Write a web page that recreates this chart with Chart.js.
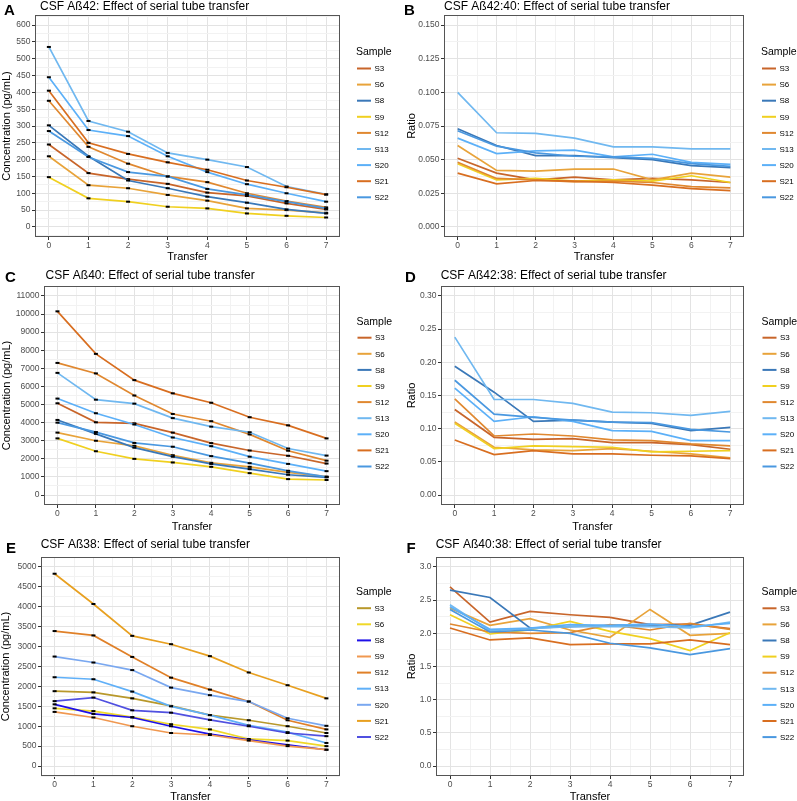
<!DOCTYPE html>
<html>
<head>
<meta charset="utf-8">
<script src="https://cdn.jsdelivr.net/npm/chart.js@4"></script>
<style>
  body { margin: 0; background: #fff; width: 797px; height: 801px; overflow: hidden; }
  canvas { position: absolute; }
</style>
</head>
<body>
<canvas id="pA"></canvas>
<canvas id="pB"></canvas>
<canvas id="pC"></canvas>
<canvas id="pD"></canvas>
<canvas id="pE"></canvas>
<canvas id="pF"></canvas>
<script>
// samples (legend order) and transfer steps
const samples = ['S3', 'S6', 'S8', 'S9', 'S12', 'S13', 'S20', 'S21', 'S22'];
const transfer = [0, 1, 2, 3, 4, 5, 6, 7];
const xTicks = [0, 1, 2, 3, 4, 5, 6, 7];

// y tick labels per panel
const yTicksAb42 = [0, 50, 100, 150, 200, 250, 300, 350, 400, 450, 500, 550, 600];
const yTicksRatio4240 = [0, 0.025, 0.05, 0.075, 0.1, 0.125, 0.15];
const yTicksAb40 = [0, 1000, 2000, 3000, 4000, 5000, 6000, 7000, 8000, 9000, 10000, 11000];
const yTicksRatio4238 = [0, 0.05, 0.1, 0.15, 0.2, 0.25, 0.3];
const yTicksAb38 = [0, 500, 1000, 1500, 2000, 2500, 3000, 3500, 4000, 4500, 5000];
const yTicksRatio4038 = [0, 0.5, 1, 1.5, 2, 2.5, 3];

// values, one row per sample (same order as samples)
const ab42 = [
  [245, 160, 142, 128, 102, 92, 70, 52],
  [210, 124, 115, 95, 78, 55, 50, 42],
  [302, 210, 138, 115, 90, 72, 52, 40],
  [148, 85, 75, 60, 55, 40, 33, 28],
  [375, 238, 188, 150, 133, 100, 77, 58],
  [535, 315, 283, 220, 200, 178, 120, 97],
  [445, 288, 270, 210, 163, 127, 100, 75],
  [405, 250, 217, 192, 170, 138, 118, 96],
  [285, 208, 163, 150, 113, 95, 75, 55]
];
const ratio4240 = [
  [0.051, 0.040, 0.035, 0.037, 0.035, 0.036, 0.035, 0.033],
  [0.0605, 0.042, 0.0415, 0.043, 0.043, 0.035, 0.040, 0.037],
  [0.073, 0.0605, 0.053, 0.053, 0.0515, 0.050, 0.0455, 0.044],
  [0.047, 0.035, 0.036, 0.034, 0.035, 0.034, 0.038, 0.033],
  [0.048, 0.036, 0.035, 0.0335, 0.034, 0.033, 0.030, 0.029],
  [0.100, 0.070, 0.0695, 0.066, 0.0595, 0.0595, 0.058, 0.058],
  [0.066, 0.0545, 0.0565, 0.057, 0.052, 0.054, 0.048, 0.0465],
  [0.040, 0.032, 0.0345, 0.034, 0.033, 0.031, 0.0285, 0.027],
  [0.0715, 0.060, 0.055, 0.0525, 0.052, 0.051, 0.047, 0.045]
];
const ab40 = [
  [5070, 4020, 3960, 3450, 2870, 2460, 2170, 1740],
  [3450, 3000, 2720, 2200, 1780, 1560, 1250, 1020],
  [4150, 3380, 2620, 2120, 1720, 1430, 1120, 980],
  [3130, 2420, 2000, 1800, 1560, 1210, 880, 830],
  [7300, 6720, 5500, 4480, 4080, 3350, 2450, 1900],
  [6750, 5270, 5050, 4250, 3780, 3470, 2570, 2180],
  [5330, 4520, 3900, 3180, 2700, 2120, 1720, 1320],
  [10150, 7800, 6350, 5620, 5100, 4300, 3850, 3130],
  [4000, 3480, 2880, 2670, 2150, 1760, 1340, 1000]
];
const ratio4238 = [
  [0.129, 0.087, 0.084, 0.085, 0.079, 0.079, 0.076, 0.069],
  [0.110, 0.072, 0.068, 0.067, 0.070, 0.066, 0.062, 0.056],
  [0.194, 0.155, 0.111, 0.113, 0.110, 0.108, 0.097, 0.102],
  [0.108, 0.070, 0.074, 0.073, 0.072, 0.065, 0.066, 0.067],
  [0.145, 0.089, 0.092, 0.089, 0.083, 0.082, 0.077, 0.074],
  [0.238, 0.144, 0.144, 0.138, 0.125, 0.124, 0.120, 0.126],
  [0.161, 0.111, 0.118, 0.111, 0.097, 0.096, 0.082, 0.082],
  [0.083, 0.061, 0.067, 0.062, 0.062, 0.060, 0.059, 0.055],
  [0.173, 0.122, 0.117, 0.113, 0.110, 0.109, 0.099, 0.095]
];
const ab38 = [
  [1880, 1850, 1700, 1510, 1280, 1150, 1000, 830],
  [1450, 1380, 1230, 1050, 920, 680, 640, 500],
  [1550, 1310, 1220, 1000, 800, 660, 530, 410],
  [1360, 1220, 1000, 830, 780, 640, 500, 410],
  [3390, 3280, 2740, 2220, 1920, 1620, 1150, 920],
  [2230, 2180, 1870, 1500, 1280, 1020, 850, 580],
  [2750, 2600, 2410, 1970, 1780, 1620, 1200, 1010],
  [4830, 4070, 3270, 3060, 2760, 2350, 2030, 1700],
  [1630, 1720, 1400, 1340, 1160, 1000, 830, 750]
];
const ratio4038 = [
  [2.70, 2.17, 2.33, 2.28, 2.24, 2.13, 2.14, 2.07],
  [2.38, 2.12, 2.22, 2.05, 1.94, 2.36, 1.97, 2.00],
  [2.65, 2.54, 2.08, 2.10, 2.12, 2.13, 2.12, 2.32],
  [2.28, 1.99, 2.05, 2.18, 2.03, 1.92, 1.74, 2.01],
  [2.14, 2.02, 2.00, 2.01, 2.13, 2.05, 2.15, 2.06],
  [2.43, 2.04, 2.07, 2.10, 2.10, 2.10, 2.08, 2.17],
  [2.40, 2.06, 2.08, 2.13, 2.12, 2.14, 2.10, 2.15],
  [2.08, 1.90, 1.93, 1.83, 1.84, 1.84, 1.90, 1.83],
  [2.36, 2.02, 2.05, 2.00, 1.85, 1.78, 1.68, 1.77]
];

const warmCool = ['#c8652a', '#e8a33a', '#3a78b8', '#f0d020', '#e08830', '#70b8f0', '#5cb0f8', '#d86e20', '#4a98e0'];
const ab38Colors = ['#b8982a', '#f0d828', '#1e10e8', '#f09850', '#e08028', '#60b0f8', '#7aa8f0', '#e8a020', '#5050e0'];

const FONT = '"Liberation Sans", Arial, Helvetica, sans-serif';

// builds major + minor (half step) ticks for a ggplot-like grid
function gridTicks(majors, min, max) {
  const step = majors[1] - majors[0];
  const out = majors.map(v => ({ value: v }));
  for (let k = -1; k < majors.length; k++) {
    const v = majors[0] + step * (k + 0.5);
    if (v >= min && v <= max) out.push({ value: v, minor: true });
  }
  return out.sort((a, b) => a.value - b.value);
}

function deco(p) {
  return {
    id: 'deco',
    afterDraw(chart) {
      const c = chart.ctx;
      const a = chart.chartArea;
      const ox = p.box[0], oy = p.box[1];
      c.save();
      c.strokeStyle = '#555';
      c.lineWidth = 1;
      c.strokeRect(a.left + 0.5, a.top + 0.5, a.right - a.left - 1, a.bottom - a.top - 1);

      c.fillStyle = '#000';
      c.textBaseline = 'middle';
      c.textAlign = 'left';
      c.font = 'bold 15px ' + FONT;
      c.fillText(p.letter, p.letterPos[0] - ox, p.letterPos[1] - oy);
      c.font = '12px ' + FONT;
      c.fillText(p.title, p.titlePos[0] - ox, p.titlePos[1] - oy);

      c.textAlign = 'center';
      c.font = '11px ' + FONT;
      c.fillText('Transfer', (a.left + a.right) / 2, p.xTitleY - oy);
      c.save();
      c.translate(p.yTitleX - ox, (a.top + a.bottom) / 2);
      c.rotate(-Math.PI / 2);
      c.fillText(p.yTitle, 0, 0);
      c.restore();

      c.textAlign = 'left';
      c.font = '10.5px ' + FONT;
      c.fillText('Sample', p.legX - ox, p.legTitleY - oy);
      c.font = '8px ' + FONT;
      samples.forEach((s, i) => {
        const y = p.legY0 - oy + i * 16.1;
        c.strokeStyle = p.colors[i];
        c.lineWidth = 2;
        c.beginPath();
        c.moveTo(p.legX + 1 - ox, y);
        c.lineTo(p.legX + 15 - ox, y);
        c.stroke();
        c.fillStyle = '#000';
        c.fillText(s, p.legX + 18.5 - ox, y + 0.5);
      });
      c.restore();
    }
  };
}

function makePanel(p) {
  const [bx, by, bw, bh] = p.box;
  const [pl, pt, pr, pb] = p.plot;
  const cv = document.getElementById(p.id);
  cv.width = bw;
  cv.height = bh;
  cv.style.left = bx + 'px';
  cv.style.top = by + 'px';

  const gridColor = ctx => (ctx.tick && ctx.tick.minor ? '#f2f2f2' : '#e3e3e3');
  const tickColor = ctx => (ctx.tick && ctx.tick.minor ? 'rgba(0,0,0,0)' : '#333');
  const tickFont = { family: FONT, size: 8.5 };

  new Chart(cv, {
    type: 'line',
    data: {
      datasets: p.values.map((vals, i) => ({
        label: samples[i],
        data: transfer.map((t, j) => ({ x: t, y: vals[j] })),
        borderColor: p.colors[i],
        backgroundColor: p.colors[i],
        borderWidth: 1.7,
        tension: 0,
        fill: false,
        order: samples.length - i,
        pointStyle: 'line',
        pointRadius: p.caps ? 2 : 0,
        pointBorderColor: '#000',
        pointBorderWidth: 2
      }))
    },
    options: {
      responsive: false,
      animation: false,
      events: [],
      layout: { padding: { left: 0, top: pt - by, right: bx + bw - pr, bottom: 0 } },
      plugins: { legend: { display: false }, tooltip: { enabled: false }, title: { display: false } },
      scales: {
        x: {
          type: 'linear',
          min: -0.35,
          max: 7.35,
          afterBuildTicks: s => { s.ticks = gridTicks(xTicks, -0.35, 7.35); },
          afterFit: s => { s.height = by + bh - pb; },
          ticks: {
            autoSkip: false, maxRotation: 0, padding: 1, color: '#4d4d4d', font: tickFont,
            callback: (v, i, t) => (t[i].minor ? '' : String(v))
          },
          grid: { color: gridColor, lineWidth: 1, tickLength: 3, tickColor: tickColor, tickWidth: 1 },
          border: { display: false }
        },
        y: {
          type: 'linear',
          min: p.yMin,
          max: p.yMax,
          afterBuildTicks: s => { s.ticks = gridTicks(p.yTicks, p.yMin, p.yMax); },
          afterFit: s => { s.width = pl - bx; },
          ticks: {
            autoSkip: false, padding: 1.5, color: '#4d4d4d', font: tickFont,
            callback: (v, i, t) => (t[i].minor ? '' : p.fmt(v))
          },
          grid: { color: gridColor, lineWidth: 1, tickLength: 3, tickColor: tickColor, tickWidth: 1 },
          border: { display: false }
        }
      }
    },
    plugins: [deco(p)]
  });
}

const panels = [
  {
    id: 'pA', letter: 'A', title: 'CSF A\u00df42: Effect of serial tube transfer', yTitle: 'Concentration (pg/mL)',
    box: [0, 0, 400, 264], plot: [35, 15, 340, 237], values: ab42, colors: warmCool, caps: true,
    yTicks: yTicksAb42, yMin: -30, yMax: 630, fmt: v => String(Math.round(v)),
    letterPos: [4, 10.5], titlePos: [40, 6.5], xTitleY: 257, yTitleX: 6.5,
    legX: 356, legTitleY: 52, legY0: 68.5
  },
  {
    id: 'pB', letter: 'B', title: 'CSF A\u00df42:40: Effect of serial tube transfer', yTitle: 'Ratio',
    box: [400, 0, 397, 264], plot: [444, 15, 744, 237], values: ratio4240, colors: warmCool, caps: false,
    yTicks: yTicksRatio4240, yMin: -0.0075, yMax: 0.1575, fmt: v => v.toFixed(3),
    letterPos: [404, 10.5], titlePos: [444, 6.5], xTitleY: 257, yTitleX: 411.5,
    legX: 761, legTitleY: 52, legY0: 68.5
  },
  {
    id: 'pC', letter: 'C', title: 'CSF A\u00df40: Effect of serial tube transfer', yTitle: 'Concentration (pg/mL)',
    box: [0, 264, 400, 267], plot: [44, 286, 340, 505], values: ab40, colors: warmCool, caps: true,
    yTicks: yTicksAb40, yMin: -550, yMax: 11550, fmt: v => String(Math.round(v)),
    letterPos: [5, 278], titlePos: [45.5, 276], xTitleY: 526.5, yTitleX: 6.7,
    legX: 356.5, legTitleY: 321.7, legY0: 337.7
  },
  {
    id: 'pD', letter: 'D', title: 'CSF A\u00df42:38: Effect of serial tube transfer', yTitle: 'Ratio',
    box: [400, 264, 397, 267], plot: [441, 286, 744, 505], values: ratio4238, colors: warmCool, caps: false,
    yTicks: yTicksRatio4238, yMin: -0.015, yMax: 0.315, fmt: v => v.toFixed(2),
    letterPos: [405, 278], titlePos: [440.7, 276], xTitleY: 526.5, yTitleX: 411.5,
    legX: 761.5, legTitleY: 321.7, legY0: 337.7
  },
  {
    id: 'pE', letter: 'E', title: 'CSF A\u00df38: Effect of serial tube transfer', yTitle: 'Concentration (pg/mL)',
    box: [0, 531, 400, 270], plot: [41, 557, 340, 776], values: ab38, colors: ab38Colors, caps: true,
    yTicks: yTicksAb38, yMin: -250, yMax: 5250, fmt: v => String(Math.round(v)),
    letterPos: [6, 548.5], titlePos: [40.7, 545], xTitleY: 796.5, yTitleX: 6,
    legX: 356, legTitleY: 591.7, legY0: 608.2
  },
  {
    id: 'pF', letter: 'F', title: 'CSF A\u00df40:38: Effect of serial tube transfer', yTitle: 'Ratio',
    box: [400, 531, 397, 270], plot: [436, 557, 744, 776], values: ratio4038, colors: warmCool, caps: false,
    yTicks: yTicksRatio4038, yMin: -0.15, yMax: 3.15, fmt: v => v.toFixed(1),
    letterPos: [406.5, 548.5], titlePos: [435.7, 545], xTitleY: 796.5, yTitleX: 411.5,
    legX: 761.5, legTitleY: 591.7, legY0: 608.3
  }
];

panels.forEach(makePanel);
</script>
</body>
</html>
